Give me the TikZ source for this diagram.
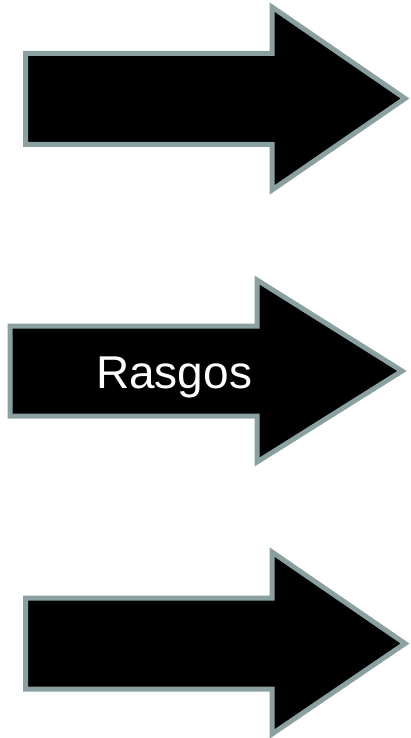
\documentclass[tikz,border=0pt]{standalone}
\usepackage{fontspec}
\setmainfont{Liberation Sans}
\usepackage{xcolor}
\usepackage{tikz}
\definecolor{arrowgray}{RGB}{138,161,162}

\begin{document}
\begin{tikzpicture}[x=1pt,y=-1pt,
  bigarrow/.style={fill=black, draw=arrowgray, line width=5pt, line join=miter}]
  \useasboundingbox (0,0) rectangle (410,738);

  % Top arrow
  \draw[bigarrow] (25.5,53.5) -- (272,53.5) -- (272,7) -- (405,98.5)
    -- (272,190) -- (272,144.5) -- (25.5,144.5) -- cycle;

  % Middle arrow
  \draw[bigarrow] (10,326) -- (257,326) -- (257,280) -- (402,371)
    -- (257,462) -- (257,416) -- (10,416) -- cycle;

  % Label
  \node[white, anchor=base west, inner sep=0pt, font=\fontsize{46}{50}\selectfont]
    (rasgos) at (96,388) {Rasgos};

  % Bottom arrow
  \draw[bigarrow] (25.5,598) -- (272,598) -- (272,552) -- (405,643.5)
    -- (272,734) -- (272,689) -- (25.5,689) -- cycle;
\end{tikzpicture}
\end{document}
